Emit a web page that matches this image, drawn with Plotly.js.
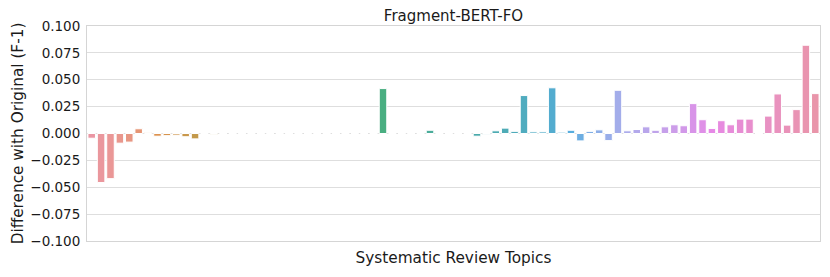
<!DOCTYPE html>
<html>
<head>
<meta charset="utf-8">
<script src="https://cdn.plot.ly/plotly-3.0.1.min.js"></script>
<style>
html,body{margin:0;padding:0;background:#fff;}
#chart{width:830px;height:277px;}
</style>
</head>
<body>
<div id="chart"></div>
<script>
// ---- data ----
var chartTitle = "Fragment-BERT-FO";
var xTitle = "Systematic Review Topics";
var yTitle = "Difference with Original (F-1)";
var yTickVals = [-0.1, -0.075, -0.05, -0.025, 0, 0.025, 0.05, 0.075, 0.1];
var yTickText = ["\u22120.100", "\u22120.075", "\u22120.050", "\u22120.025", "0.000", "0.025", "0.050", "0.075", "0.100"];
var differences = [
  -0.0044, -0.0456, -0.0420, -0.0090, -0.0080, 0.0044, 0.0010, -0.0025, -0.0020, -0.0015,
  -0.0030, -0.0050, 0.0000, -0.0010, 0.0000, 0.0000, 0.0000, 0.0000, 0.0000, 0.0000,
  0.0000, 0.0000, 0.0000, 0.0000, 0.0000, 0.0000, 0.0000, 0.0000, 0.0000, 0.0000,
  0.0000, 0.0418, 0.0000, 0.0000, 0.0000, 0.0000, 0.0030, 0.0000, 0.0000, 0.0000,
  0.0000, -0.0025, -0.0010, 0.0025, 0.0050, 0.0020, 0.0353, 0.0015, 0.0015, 0.0425,
  0.0012, 0.0030, -0.0069, 0.0020, 0.0034, -0.0066, 0.0402, 0.0025, 0.0037, 0.0062,
  0.0030, 0.0062, 0.0081, 0.0072, 0.0278, 0.0128, 0.0047, 0.0119, 0.0081, 0.0134,
  0.0134, 0.0000, 0.0162, 0.0368, 0.0078, 0.0222, 0.0821, 0.0371
];
var topics = differences.map(function (_, i) { return "Topic " + (i + 1); });

// ---- seaborn-like husl palette (style only) ----
var M = [[3.2406, -1.5372, -0.4986], [-0.9689, 1.8758, 0.0415], [0.0557, -0.2040, 1.0570]];
var refU = 0.19784, refV = 0.46834, labE = 0.008856, labK = 903.3;
function maxChroma(L, H) {
  var hr = H / 360 * 2 * Math.PI, sinH = Math.sin(hr), cosH = Math.cos(hr);
  var sub1 = Math.pow(L + 16, 3) / 1560896;
  var sub2 = sub1 > labE ? sub1 : L / labK;
  var res = Infinity;
  M.forEach(function (row) {
    var m1 = row[0], m2 = row[1], m3 = row[2];
    var top = (0.99915 * m1 + 1.05122 * m2 + 1.14460 * m3) * sub2;
    var rb = 0.86330 * m3 - 0.17266 * m2;
    var lb = 0.12949 * m3 - 0.38848 * m1;
    var bottom = (rb * sinH + lb * cosH) * sub2;
    [0, 1].forEach(function (t) {
      var C = L * (top - 1.05122 * t) / (bottom + 0.17266 * sinH * t);
      if (C > 0 && C < res) res = C;
    });
  });
  return res;
}
function fInv(t) { return Math.pow(t, 3) > labE ? Math.pow(t, 3) : (116 * t - 16) / labK; }
function fromLinear(c) { return c <= 0.0031308 ? 12.92 * c : 1.055 * Math.pow(c, 1 / 2.4) - 0.055; }
function huslToRgb(H, S, L) {
  var C = maxChroma(L, H) / 100 * S;
  var hr = H / 360 * 2 * Math.PI;
  var U = Math.cos(hr) * C, V = Math.sin(hr) * C;
  var vY = fInv((L + 16) / 116);
  var vU = U / (13 * L) + refU, vV = V / (13 * L) + refV;
  var Y = vY;
  var X = -(9 * Y * vU) / ((vU - 4) * vV - vU * vV);
  var Z = (9 * Y - 15 * vV * Y - vV * X) / (3 * vV);
  return M.map(function (r) {
    var c = fromLinear(r[0] * X + r[1] * Y + r[2] * Z);
    return Math.min(1, Math.max(0, c));
  });
}
function rgbToHls(r, g, b) {
  var mx = Math.max(r, g, b), mn = Math.min(r, g, b), l = (mx + mn) / 2, h = 0, s = 0;
  if (mx !== mn) {
    var d = mx - mn;
    s = l <= 0.5 ? d / (mx + mn) : d / (2 - mx - mn);
    var rc = (mx - r) / d, gc = (mx - g) / d, bc = (mx - b) / d;
    if (r === mx) h = bc - gc; else if (g === mx) h = 2 + rc - bc; else h = 4 + gc - rc;
    h = ((h / 6) % 1 + 1) % 1;
  }
  return [h, l, s];
}
function hlsToRgb(h, l, s) {
  if (s === 0) return [l, l, l];
  var m2 = l <= 0.5 ? l * (1 + s) : l + s - l * s, m1 = 2 * l - m2;
  function v(hue) {
    hue = ((hue % 1) + 1) % 1;
    if (hue < 1 / 6) return m1 + (m2 - m1) * hue * 6;
    if (hue < 0.5) return m2;
    if (hue < 2 / 3) return m1 + (m2 - m1) * (2 / 3 - hue) * 6;
    return m1;
  }
  return [v(h + 1 / 3), v(h), v(h - 1 / 3)];
}
function palette(n) {
  var out = [];
  for (var i = 0; i < n; i++) {
    var h = ((i / n) + 0.01) % 1 * 359;
    var rgb = huslToRgb(h, 0.9 * 99, 0.7 * 99);
    var hls = rgbToHls(rgb[0], rgb[1], rgb[2]);
    var d = hlsToRgb(hls[0], hls[1], hls[2] * 0.75);
    out.push("rgb(" + d.map(function (c) { return Math.round(c * 255); }).join(",") + ")");
  }
  return out;
}
var barColors = palette(differences.length);

var trace = {
  type: "bar",
  x: topics,
  y: differences,
  marker: { color: barColors, line: { color: "#ffffff", width: 1 } },
  hoverinfo: "x+y"
};

var font = "DejaVu Sans, Liberation Sans, sans-serif";
var layout = {
  width: 830, height: 277,
  margin: { l: 87, r: 10, t: 26, b: 36 },
  paper_bgcolor: "#ffffff", plot_bgcolor: "#ffffff",
  font: { family: font, color: "#1a1a1a", size: 13.5 },
  bargap: 0.2,
  showlegend: false,
  title: {
    text: chartTitle,
    font: { family: font, size: 15, color: "#1a1a1a" },
    x: 0.5, xref: "paper", xanchor: "center",
    y: 1 - 15.5 / 277, yref: "container", yanchor: "middle"
  },
  xaxis: {
    type: "category",
    range: [-0.5, differences.length - 0.5],
    showticklabels: false,
    ticks: "",
    showgrid: false,
    zeroline: false,
    showline: true, linecolor: "#d5d5d5", linewidth: 1, mirror: true,
    title: { text: xTitle, font: { family: font, size: 15.3, color: "#1a1a1a" }, standoff: 11 },
    automargin: false
  },
  yaxis: {
    range: [-0.1, 0.1],
    tickvals: yTickVals,
    ticktext: yTickText,
    ticks: "",
    tickfont: { family: font, size: 13.5, color: "#1a1a1a" },
    ticklabelstandoff: 3,
    showgrid: true, gridcolor: "#dedede", gridwidth: 1,
    zeroline: false,
    showline: true, linecolor: "#d5d5d5", linewidth: 1, mirror: true,
    title: { text: yTitle, font: { family: font, size: 15.3, color: "#1a1a1a" }, standoff: 2 },
    automargin: false
  }
};

Plotly.newPlot("chart", [trace], layout, { displayModeBar: false, staticPlot: true });
</script>
</body>
</html>
